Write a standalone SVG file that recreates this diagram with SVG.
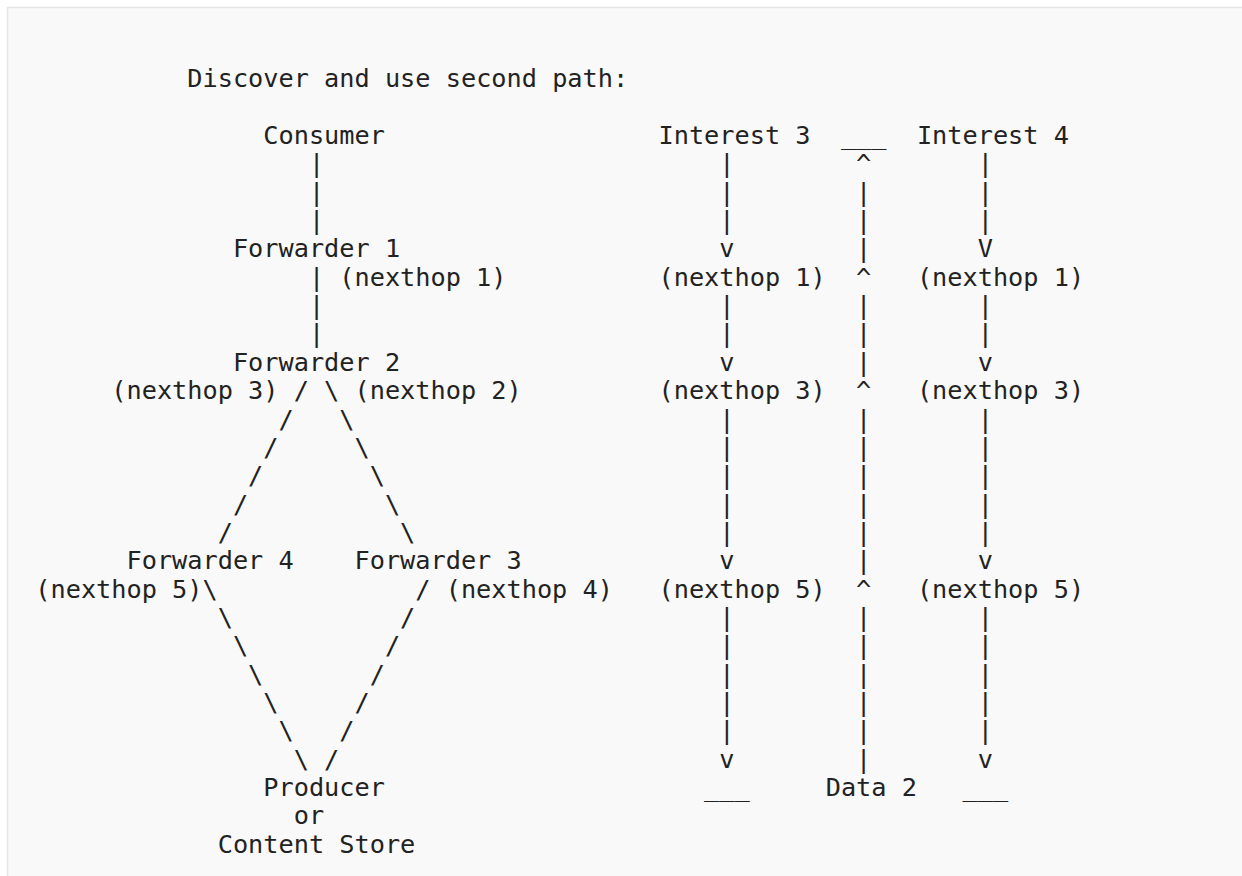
<svg xmlns="http://www.w3.org/2000/svg" width="1242" height="876" viewBox="0 0 1242 876">
<style>
text { font-family: "DejaVu Sans Mono", "Liberation Mono", monospace; font-size: 25.25px; fill: #222; }
.bg { fill: #f9f9f9; stroke: #e6e6e6; stroke-width: 1.5; }
</style>
<rect x="0" y="0" width="1242" height="876" fill="#ffffff"/>
<rect class="bg" x="7.5" y="7.5" width="1260" height="900"/>

<g id="title">
<text x="187.3" y="87.3">Discover and use second path:</text>
</g>

<g id="consumer"><text x="263.3" y="144">Consumer</text></g>
<g id="forwarder1"><text x="232.9" y="257.4">Forwarder 1</text></g>
<g id="forwarder2"><text x="232.9" y="370.8">Forwarder 2</text></g>
<g id="forwarder4"><text x="126.5" y="569.25">Forwarder 4</text></g>
<g id="forwarder3"><text x="354.5" y="569.25">Forwarder 3</text></g>
<g id="producer">
<text x="263.3" y="796.05">Producer</text>
<text x="293.7" y="824.4">or</text>
<text x="217.7" y="852.75">Content Store</text>
</g>

<g id="connectors">
<!-- Consumer to Forwarder 1 -->
<text x="308.9" y="172.35">|</text>
<text x="308.9" y="200.7">|</text>
<text x="308.9" y="229.05">|</text>
<!-- Forwarder 1 to Forwarder 2 -->
<text x="308.9" y="285.75">|</text>
<text x="339.3" y="285.75">(nexthop 1)</text>
<text x="308.9" y="314.1">|</text>
<text x="308.9" y="342.45">|</text>
<!-- Forwarder 2 to Forwarder 4 / Forwarder 3 -->
<text x="111.3" y="399.15">(nexthop 3)</text>
<text x="293.7" y="399.15">/</text>
<text x="324.1" y="399.15">\</text>
<text x="354.5" y="399.15">(nexthop 2)</text>
<text x="278.5" y="427.5">/</text><text x="339.3" y="427.5">\</text>
<text x="263.3" y="455.85">/</text><text x="354.5" y="455.85">\</text>
<text x="248.1" y="484.2">/</text><text x="369.7" y="484.2">\</text>
<text x="232.9" y="512.55">/</text><text x="384.9" y="512.55">\</text>
<text x="217.7" y="540.9">/</text><text x="400.1" y="540.9">\</text>
<!-- Forwarder 4 / Forwarder 3 to Producer -->
<text x="35.3" y="597.6">(nexthop 5)</text>
<text x="202.5" y="597.6">\</text>
<text x="415.3" y="597.6">/</text>
<text x="445.7" y="597.6">(nexthop 4)</text>
<text x="217.7" y="625.95">\</text><text x="400.1" y="625.95">/</text>
<text x="232.9" y="654.3">\</text><text x="384.9" y="654.3">/</text>
<text x="248.1" y="682.65">\</text><text x="369.7" y="682.65">/</text>
<text x="263.3" y="711">\</text><text x="354.5" y="711">/</text>
<text x="278.5" y="739.35">\</text><text x="339.3" y="739.35">/</text>
<text x="293.7" y="767.7">\</text><text x="324.1" y="767.7">/</text>
</g>

<g id="interest3">
<text x="658.5" y="144">Interest 3</text>
<text x="719.3" y="172.35">|</text>
<text x="719.3" y="200.7">|</text>
<text x="719.3" y="229.05">|</text>
<text x="719.3" y="257.4">v</text>
<text x="658.5" y="285.75">(nexthop 1)</text>
<text x="719.3" y="314.1">|</text>
<text x="719.3" y="342.45">|</text>
<text x="719.3" y="370.8">v</text>
<text x="658.5" y="399.15">(nexthop 3)</text>
<text x="719.3" y="427.5">|</text>
<text x="719.3" y="455.85">|</text>
<text x="719.3" y="484.2">|</text>
<text x="719.3" y="512.55">|</text>
<text x="719.3" y="540.9">|</text>
<text x="719.3" y="569.25">v</text>
<text x="658.5" y="597.6">(nexthop 5)</text>
<text x="719.3" y="625.95">|</text>
<text x="719.3" y="654.3">|</text>
<text x="719.3" y="682.65">|</text>
<text x="719.3" y="711">|</text>
<text x="719.3" y="739.35">|</text>
<text x="719.3" y="767.7">v</text>
<text x="704.1" y="796.05">___</text>
</g>

<g id="data2">
<text x="840.9" y="144">___</text>
<text x="856.1" y="172.35">^</text>
<text x="856.1" y="200.7">|</text>
<text x="856.1" y="229.05">|</text>
<text x="856.1" y="257.4">|</text>
<text x="856.1" y="285.75">^</text>
<text x="856.1" y="314.1">|</text>
<text x="856.1" y="342.45">|</text>
<text x="856.1" y="370.8">|</text>
<text x="856.1" y="399.15">^</text>
<text x="856.1" y="427.5">|</text>
<text x="856.1" y="455.85">|</text>
<text x="856.1" y="484.2">|</text>
<text x="856.1" y="512.55">|</text>
<text x="856.1" y="540.9">|</text>
<text x="856.1" y="569.25">|</text>
<text x="856.1" y="597.6">^</text>
<text x="856.1" y="625.95">|</text>
<text x="856.1" y="654.3">|</text>
<text x="856.1" y="682.65">|</text>
<text x="856.1" y="711">|</text>
<text x="856.1" y="739.35">|</text>
<text x="856.1" y="767.7">|</text>
<text x="825.7" y="796.05">Data 2</text>
</g>

<g id="interest4">
<text x="916.9" y="144">Interest 4</text>
<text x="977.7" y="172.35">|</text>
<text x="977.7" y="200.7">|</text>
<text x="977.7" y="229.05">|</text>
<text x="977.7" y="257.4">V</text>
<text x="916.9" y="285.75">(nexthop 1)</text>
<text x="977.7" y="314.1">|</text>
<text x="977.7" y="342.45">|</text>
<text x="977.7" y="370.8">v</text>
<text x="916.9" y="399.15">(nexthop 3)</text>
<text x="977.7" y="427.5">|</text>
<text x="977.7" y="455.85">|</text>
<text x="977.7" y="484.2">|</text>
<text x="977.7" y="512.55">|</text>
<text x="977.7" y="540.9">|</text>
<text x="977.7" y="569.25">v</text>
<text x="916.9" y="597.6">(nexthop 5)</text>
<text x="977.7" y="625.95">|</text>
<text x="977.7" y="654.3">|</text>
<text x="977.7" y="682.65">|</text>
<text x="977.7" y="711">|</text>
<text x="977.7" y="739.35">|</text>
<text x="977.7" y="767.7">v</text>
<text x="962.5" y="796.05">___</text>
</g>
</svg>
